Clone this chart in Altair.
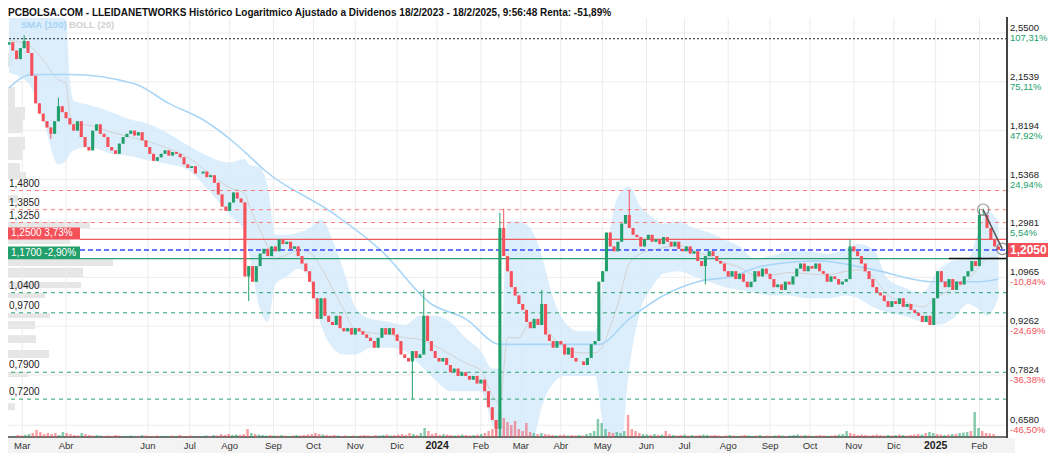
import altair as alt
import pandas as pd

TITLE = "PCBOLSA.COM - LLEIDANETWORKS Histórico Logaritmico Ajustado a Dividenos 18/2/2023 - 18/2/2025, 9:56:48 Renta: -51,89%"
FONT = "Liberation Sans"
GREEN = "#22a06b"
RED = "#f4515a"

start_date = "2023-02-20"
end_date = "2025-02-18"
step = 2  # trading days per candle

open0 = 2.45
closes = [
    2.47, 2.40, 2.33, 2.42, 2.48, 2.38, 2.20, 2.00, 1.93, 1.88,
    1.84, 1.80, 1.88, 1.98, 1.94, 1.90, 1.86, 1.82, 1.88, 1.78,
    1.72, 1.70, 1.82, 1.86, 1.80, 1.78, 1.72, 1.70, 1.68, 1.74,
    1.78, 1.80, 1.82, 1.79, 1.81, 1.76, 1.72, 1.68, 1.64, 1.66,
    1.68, 1.70, 1.67, 1.69, 1.68, 1.66, 1.62, 1.60, 1.61, 1.57,
    1.57, 1.58, 1.55, 1.56, 1.52, 1.46, 1.40, 1.38, 1.42, 1.47,
    1.44, 1.42, 1.10, 1.14, 1.08, 1.14, 1.19, 1.21, 1.18, 1.22,
    1.20, 1.25, 1.23, 1.24, 1.21, 1.22, 1.18, 1.15, 1.12, 1.08,
    1.02, 0.95, 1.02, 0.96, 0.94, 0.93, 0.96, 0.92, 0.91, 0.92,
    0.90, 0.92, 0.91, 0.90, 0.89, 0.88, 0.86, 0.89, 0.92, 0.90,
    0.92, 0.90, 0.88, 0.84, 0.83, 0.82, 0.85, 0.83, 0.84, 0.96,
    0.88, 0.85, 0.83, 0.82, 0.83, 0.81, 0.79, 0.80, 0.78, 0.79,
    0.78, 0.77, 0.78, 0.76, 0.77, 0.74, 0.70, 0.67, 0.65, 1.30,
    1.18, 1.12, 1.06, 1.03, 1.00, 0.98, 0.94, 0.92, 0.95, 0.93,
    1.00, 0.90, 0.88, 0.86, 0.88, 0.87, 0.84, 0.86, 0.83, 0.82,
    0.82, 0.81, 0.83, 0.87, 0.88, 1.08, 1.12, 1.28, 1.22, 1.20,
    1.24, 1.32, 1.36, 1.30, 1.27, 1.26, 1.22, 1.25, 1.27, 1.24,
    1.25, 1.23, 1.26, 1.24, 1.22, 1.24, 1.21, 1.20, 1.22, 1.19,
    1.20, 1.16, 1.14, 1.18, 1.20, 1.18, 1.16, 1.15, 1.12, 1.10,
    1.12, 1.09, 1.11, 1.08, 1.06, 1.08, 1.12, 1.10, 1.13, 1.11,
    1.09, 1.06, 1.07, 1.05, 1.08, 1.07, 1.10, 1.13, 1.15, 1.12,
    1.14, 1.13, 1.15, 1.12, 1.11, 1.08, 1.10, 1.09, 1.07, 1.08,
    1.09, 1.22, 1.20, 1.18, 1.15, 1.12, 1.09, 1.06, 1.04, 1.03,
    1.01, 0.99, 1.01, 1.00, 1.02, 0.99, 1.00, 0.98, 0.97, 0.96,
    0.94, 0.96, 0.93, 1.02, 1.12, 1.08, 1.06, 1.09, 1.05, 1.08,
    1.07, 1.10, 1.12, 1.16, 1.14, 1.36, 1.36, 1.30, 1.25, 1.22,
    1.205,
]
volumes = [
    10, 20, 15, 20, 30, 40, 70, 50, 30, 40,
    30, 40, 20, 50, 40, 30, 20, 15, 40, 30,
    20, 15, 20, 15, 10, 15, 10, 20, 15, 10,
    10, 15, 10, 10, 20, 15, 10, 10, 15, 10,
    10, 10, 15, 10, 20, 10, 10, 15, 10, 10,
    10, 15, 10, 20, 15, 30, 20, 30, 20, 25,
    20, 30, 80, 40, 30, 25, 20, 15, 20, 15,
    15, 20, 15, 10, 15, 20, 15, 20, 25, 30,
    40, 30, 25, 20, 15, 20, 15, 10, 15, 10,
    15, 10, 15, 20, 15, 10, 20, 15, 20, 25,
    15, 20, 25, 30, 20, 40, 30, 20, 40, 90,
    60, 30, 40, 20, 30, 25, 20, 15, 20, 25,
    20, 15, 20, 25, 30, 40, 60, 80, 90, 260,
    190, 150, 120, 160, 80, 60, 140, 50, 40, 30,
    40, 30, 25, 20, 15, 20, 25, 15, 20, 15,
    20, 15, 30, 40, 60, 180, 140, 80, 50, 40,
    50, 40, 60, 220, 80, 60, 40, 30, 25, 20,
    30, 20, 25, 60, 30, 20, 15, 20, 25, 15,
    20, 15, 20, 25, 20, 15, 20, 15, 10, 15,
    20, 15, 10, 15, 20, 15, 10, 15, 20, 10,
    15, 10, 15, 20, 15, 10, 15, 20, 25, 15,
    20, 15, 10, 15, 20, 15, 10, 15, 20, 25,
    30, 60, 40, 30, 20, 25, 20, 15, 20, 25,
    20, 15, 20, 15, 20, 25, 20, 15, 20, 25,
    30, 25, 40, 50, 40, 30, 25, 20, 25, 30,
    30, 40, 45, 50, 60, 250, 90, 60, 40, 35,
    30,
]
spike_k = [4, 13, 109, 129, 130, 140, 163, 221, 255, 256]
spike_hi = [2.53, 2.04, 1.05, 1.37, 1.39, 1.05, 1.48, 1.25, 1.39, 1.39]
dip_k = [11, 63, 106, 128, 129, 183]
dip_lo = [1.77, 1.01, 0.72, 0.63, 0.63, 1.07]

boll_k = [0, 5, 9, 13, 15, 16, 17, 21, 27, 31, 37, 42, 47, 52, 58, 62, 63, 66, 68, 70,
          73, 76, 79, 82, 85, 88, 91, 95, 100, 104, 108, 112, 116, 120, 124, 127, 129, 131, 134, 137,
          140, 143, 146, 150, 154, 156, 158, 160, 163, 166, 169, 172, 176, 180, 184, 188, 192, 196, 200, 205,
          210, 215, 220, 223, 227, 231, 235, 240, 244, 248, 252, 255, 257, 260]
boll_up = [2.75, 2.75, 2.75, 2.72, 2.65, 2.17, 2.02, 1.99, 1.94, 1.90, 1.86, 1.80, 1.73, 1.67, 1.63, 1.65, 1.62, 1.60, 1.50, 1.27,
           1.27, 1.28, 1.30, 1.34, 1.25, 1.12, 0.99, 0.95, 0.94, 0.93, 0.96, 0.96, 0.94, 0.89, 0.85, 0.80, 0.80, 1.33, 1.33, 1.30,
           1.18, 1.02, 0.94, 0.91, 0.91, 1.07, 1.30, 1.45, 1.50, 1.40, 1.35, 1.32, 1.33, 1.30, 1.28, 1.25, 1.22, 1.17, 1.18, 1.20,
           1.20, 1.19, 1.21, 1.23, 1.21, 1.09, 1.06, 1.04, 1.12, 1.16, 1.17, 1.30, 1.38, 1.33]
boll_lo = [2.22, 2.15, 1.89, 1.62, 1.64, 1.68, 1.70, 1.72, 1.68, 1.67, 1.64, 1.62, 1.59, 1.49, 1.36, 1.28, 1.20, 0.98, 0.94, 1.07,
           1.10, 1.13, 1.09, 0.93, 0.86, 0.84, 0.84, 0.86, 0.86, 0.85, 0.81, 0.77, 0.74, 0.74, 0.74, 0.66, 0.62, 0.45, 0.45, 0.58,
           0.70, 0.76, 0.78, 0.78, 0.78, 0.66, 0.55, 0.55, 0.80, 0.98, 1.06, 1.11, 1.12, 1.10, 1.08, 1.06, 1.05, 1.04, 1.03, 1.03,
           1.02, 1.02, 1.03, 1.02, 0.99, 0.97, 0.96, 0.94, 0.93, 0.95, 1.00, 0.98, 0.96, 1.02]

sma_k = [0, 6, 16, 33, 42, 51, 59, 63, 67, 85, 98, 111, 120, 129, 133, 150, 155, 163, 172, 181,
         190, 198, 213, 226, 243, 255, 260]
sma_v = [2.11, 2.21, 2.21, 2.14, 2.00, 1.89, 1.75, 1.67, 1.59, 1.37, 1.20, 1.00, 0.95, 0.87, 0.87, 0.87, 0.87, 0.95, 1.03, 1.08,
         1.10, 1.14, 1.16, 1.13, 1.08, 1.08, 1.09]

prof_hi = [2.380, 2.116, 2.044, 1.975, 1.888, 1.781, 1.702, 1.627, 1.578, 1.457, 1.328, 1.296, 1.256, 1.168, 1.133, 1.079,
           1.039, 0.969, 0.943, 0.898, 0.853, 0.791, 0.710]
prof_lo = [2.267, 2.044, 1.975, 1.888, 1.805, 1.702, 1.645, 1.578, 1.535, 1.418, 1.296, 1.265, 1.230, 1.140, 1.098, 1.057,
           1.021, 0.953, 0.917, 0.874, 0.830, 0.777, 0.693]
prof_vol = [5, 7, 7, 17, 15, 17, 15, 12, 18, 10, 82, 60, 62, 105, 75, 73, 37, 42, 27, 28, 41, 20, 7]

month_starts = ["2023-03-01", "2023-04-03", "2023-06-01", "2023-07-03", "2023-08-01", "2023-09-01", "2023-10-02",
                "2023-11-01", "2023-12-01", "2024-01-01", "2024-02-01", "2024-03-01", "2024-04-01", "2024-05-01",
                "2024-06-03", "2024-07-01", "2024-08-01", "2024-09-02", "2024-10-01", "2024-11-01", "2024-12-02",
                "2025-01-01", "2025-02-03"]
month_labels = ["Mar", "Abr", "Jun", "Jul", "Ago", "Sep", "Oct", "Nov", "Dic", "2024", "Feb", "Mar", "Abr", "May",
                "Jun", "Jul", "Ago", "Sep", "Oct", "Nov", "Dic", "2025", "Feb"]

tick_prices = [2.55, 2.1539, 1.8194, 1.5368, 1.2981, 1.0965, 0.9262, 0.7824, 0.6580]
tick_pcts = ["107,31%", "75,11%", "47,92%", "24,94%", "5,54%", "-10,84%", "-24,69%", "-36,38%", "-46,50%"]

max_level = 2.50
red_levels = [1.48, 1.385, 1.325]
green_levels = [1.04, 0.97, 0.79, 0.72]
res_level, res_pct = 1.25, "3,73%"
sup_level, sup_pct = 1.17, "-2,90%"
last_price = 1.205
trend_k = [256, 261]
trend_p = [1.385, 1.21]
base_k = [247, 262]

P_BOT, P_TOP = 0.6317, 2.6856
W, H = 999, 419
D_DOM = [-0.5, 524.5]


def fmt(v):
    return f"{v:.4f}".replace(".", ",")


# ---------- data frames ----------
days = pd.bdate_range(start_date, end_date)
n = len(closes)
opens = [open0] + closes[:-1]
highs = [max(o, c) for o, c in zip(opens, closes)]
lows = [min(o, c) for o, c in zip(opens, closes)]
for k, h in zip(spike_k, spike_hi):
    highs[k] = max(highs[k], h)
for k, l in zip(dip_k, dip_lo):
    lows[k] = min(lows[k], l)
cdf = pd.DataFrame({"d": [step * k for k in range(n)], "open": opens, "close": closes,
                    "high": highs, "low": lows, "vol": volumes})
cdf["dir"] = ["up" if c >= o else "down" for o, c in zip(opens, closes)]

bdf = pd.DataFrame({"d": [step * k for k in boll_k], "up": boll_up, "lo": boll_lo})
bdf["mid"] = (bdf["up"] + bdf["lo"]) / 2
sdf = pd.DataFrame({"d": [step * k for k in sma_k], "v": sma_v})
mdf = pd.DataFrame({"d": [int(days.searchsorted(pd.Timestamp(s))) for s in month_starts], "lab": month_labels})
mdf["bold"] = mdf["lab"].str.isdigit()
tdf = pd.DataFrame({"p": tick_prices, "lab": [fmt(p) for p in tick_prices], "pct": tick_pcts})
tdf["pos"] = ~tdf["pct"].str.startswith("-")
pdf = pd.DataFrame({"hi": prof_hi, "lo": prof_lo, "vol": prof_vol, "x0": [0] * len(prof_vol)})

lv_df = pd.DataFrame({"p": red_levels + green_levels,
                      "lab": [fmt(v) for v in red_levels + green_levels]})

X = lambda f="d": alt.X(f"{f}:Q", scale=alt.Scale(domain=D_DOM, nice=False, zero=False), axis=None)
PS = alt.Scale(type="log", domain=[P_BOT, P_TOP], nice=False)
Y = lambda f: alt.Y(f"{f}:Q", scale=PS, axis=None)
COL = alt.Color("dir:N", scale=alt.Scale(domain=["up", "down"], range=[GREEN, RED]), legend=None)

one = pd.DataFrame({"a": [0]})

grid_v = alt.Chart(mdf).mark_rule(color="#ececec", strokeWidth=1).encode(x=X())
grid_h = alt.Chart(tdf).mark_rule(color="#ececec", strokeWidth=1).encode(y=Y("p"))
band = alt.Chart(bdf).mark_area(color="#d3eafb", opacity=0.8, interpolate="monotone", clip=True).encode(
    x=X(), y=Y("up"), y2="lo")
mid = alt.Chart(bdf).mark_line(color="#d2d2d2", strokeWidth=1, interpolate="monotone", clip=True).encode(
    x=X(), y=Y("mid"))
sma = alt.Chart(sdf).mark_line(color="#a9d6f7", strokeWidth=1.6, interpolate="monotone", clip=True).encode(
    x=X(), y=Y("v"))

maxl = alt.Chart(pd.DataFrame({"p": [max_level]})).mark_rule(color="#222", strokeDash=[2, 2], strokeWidth=1).encode(y=Y("p"))
reds = alt.Chart(pd.DataFrame({"p": red_levels})).mark_rule(color="#ff7a7a", strokeDash=[4, 4], strokeWidth=1).encode(y=Y("p"))
greens = alt.Chart(pd.DataFrame({"p": green_levels})).mark_rule(color="#2aa070", strokeDash=[4, 4], strokeWidth=1).encode(y=Y("p"))
res = alt.Chart(pd.DataFrame({"p": [res_level]})).mark_rule(color="#f05a5a", strokeWidth=1.2).encode(
    y=Y("p"), x=alt.value(72), x2=alt.value(W))
cur = alt.Chart(pd.DataFrame({"p": [last_price]})).mark_rule(color="#3048ff", strokeDash=[5, 3], strokeWidth=1.3).encode(
    y=Y("p"), x=alt.value(72), x2=alt.value(W))
sup = alt.Chart(pd.DataFrame({"p": [sup_level]})).mark_rule(color="#2aa070", strokeWidth=1.3).encode(
    y=Y("p"), x=alt.value(0), x2=alt.value(W))

wicks = alt.Chart(cdf).mark_rule(strokeWidth=1, clip=True).encode(x=X(), y=Y("low"), y2="high", color=COL)
bodies = alt.Chart(cdf).mark_rule(strokeWidth=3.1, clip=True).encode(x=X(), y=Y("open"), y2="close", color=COL)

base = alt.Chart(pd.DataFrame({"d": [step * k for k in base_k], "p": [sup_level, sup_level]})).mark_line(
    color="#111", strokeWidth=1.5).encode(x=X(), y=Y("p"))
trend = alt.Chart(pd.DataFrame({"d": [step * k for k in trend_k], "p": trend_p})).mark_line(
    color="#555", strokeWidth=1.5).encode(x=X(), y=Y("p"))
circ = alt.Chart(pd.DataFrame({"d": [step * k for k in trend_k], "p": trend_p})).mark_point(
    shape="circle", size=130, filled=False, color="#666", strokeWidth=1.2).encode(x=X(), y=Y("p"))

# left level labels
lv_text = alt.Chart(lv_df).mark_text(align="left", baseline="bottom", dy=-2, font=FONT, fontSize=10, color="#222").encode(
    x=alt.value(1), y=Y("p"), text="lab:N")
box_df = pd.DataFrame({"p": [res_level, sup_level], "t": [fmt(res_level) + "  " + res_pct, fmt(sup_level) + "  " + sup_pct],
                       "dir": ["down", "up"]})
boxes = alt.Chart(box_df).mark_rule(strokeWidth=12, yOffset=-6, strokeCap="butt").encode(
    y=Y("p"), x=alt.value(0), x2=alt.value(72), color=COL)
box_t = alt.Chart(box_df).mark_text(align="left", baseline="middle", dy=-6, font=FONT, fontSize=10, color="white").encode(
    x=alt.value(3), y=Y("p"), text="t:N")

# right axis labels
r_price = alt.Chart(tdf).mark_text(align="left", baseline="middle", dy=-5, font=FONT, fontSize=9.5, color="#222").encode(
    x=alt.value(W + 3), y=Y("p"), text="lab:N")
r_pct = alt.Chart(tdf).mark_text(align="left", baseline="middle", dy=5, font=FONT, fontSize=9.5).encode(
    x=alt.value(W + 3), y=Y("p"), text="pct:N",
    color=alt.Color("pos:N", scale=alt.Scale(domain=[True, False], range=[GREEN, RED]), legend=None))
last_df = pd.DataFrame({"p": [last_price], "t": [fmt(last_price)]})
last_box = alt.Chart(last_df).mark_rule(strokeWidth=14, color=RED, strokeCap="butt").encode(
    y=Y("p"), x=alt.value(W), x2=alt.value(W + 42))
last_t = alt.Chart(last_df).mark_text(align="left", baseline="middle", font=FONT, fontSize=12, fontWeight="bold",
                                      color="white").encode(x=alt.value(W + 3), y=Y("p"), text="t:N")

# frame
r_border = alt.Chart(one).mark_rule(color="#444", strokeWidth=2).encode(
    x=alt.value(W), y=alt.value(-1), y2=alt.value(H + 1))
xband = alt.Chart(one).mark_rect(color="#f3f3f3").encode(
    x=alt.value(0), x2=alt.value(W + 8), y=alt.value(H + 1), y2=alt.value(H + 16))
b_axis = alt.Chart(one).mark_rule(color="#444", strokeWidth=1.5).encode(
    x=alt.value(0), x2=alt.value(W), y=alt.value(H))
xlab_n = alt.Chart(mdf[~mdf["bold"]]).mark_text(baseline="middle", font=FONT, fontSize=9.5, color="#333").encode(
    x=X(), y=alt.value(H + 9), text="lab:N")
xlab_b = alt.Chart(mdf[mdf["bold"]]).mark_text(baseline="middle", font=FONT, fontSize=10.5, fontWeight="bold",
                                               color="#222").encode(x=X(), y=alt.value(H + 9), text="lab:N")

title = alt.Chart(pd.DataFrame({"t": [TITLE]})).mark_text(align="left", baseline="top", font=FONT, fontSize=10,
                                                          fontWeight="bold", color="#111").encode(
    x=alt.value(0), y=alt.value(-10), text="t:N")
leg1 = alt.Chart(pd.DataFrame({"t": ["SMA (100)"]})).mark_text(align="left", baseline="middle", font=FONT, fontSize=9.5,
                                                              fontWeight="bold", color="#a3d3f5").encode(
    x=alt.value(13), y=alt.value(7), text="t:N")
leg2 = alt.Chart(pd.DataFrame({"t": ["BOLL (20)"]})).mark_text(align="left", baseline="middle", font=FONT, fontSize=9.5,
                                                              fontWeight="bold", color="#d0d0d0").encode(
    x=alt.value(61), y=alt.value(7), text="t:N")

main = alt.layer(grid_v, grid_h, band, mid, sma, maxl, reds, greens, res, cur, sup, wicks, bodies,
                 base, trend, circ, lv_text, boxes, box_t, r_price, r_pct, last_box, last_t,
                 xband, b_axis, r_border, xlab_n, xlab_b, title, leg1, leg2)

profile = alt.Chart(pdf).mark_rect(color="#e6e6e6").encode(
    x=alt.X("x0:Q", scale=alt.Scale(domain=[0, W], nice=False), axis=None), x2="vol",
    y=Y("hi"), y2="lo")

volume = alt.Chart(cdf).mark_bar(size=2.5, opacity=0.55).encode(
    x=X(), y=alt.Y("vol:Q", scale=alt.Scale(domain=[0, 4190], nice=False), axis=None), color=COL)

chart = alt.layer(profile, main, volume).resolve_scale(x="independent", y="independent", color="independent").properties(
    width=W, height=H,
    padding={"left": 0, "top": 10, "right": 41, "bottom": 16},
    autosize=alt.AutoSizeParams(type="none"),
    background="white",
).configure_view(strokeWidth=0)

chart.save("out.html", embed_options={"renderer": "svg", "actions": False})
